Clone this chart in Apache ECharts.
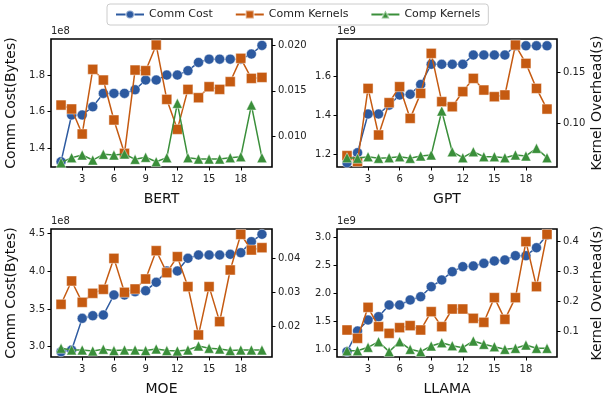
<!DOCTYPE html>
<html>
<head>
<meta charset="utf-8">
<script src="https://cdn.jsdelivr.net/npm/echarts@6/dist/echarts.min.js"></script>
<style>
html,body{margin:0;padding:0;background:#fff;}
#main{width:605px;height:398px;}
</style>
</head>
<body>
<div id="main"></div>
<script>
// x positions (run index)
var runs = [1,2,3,4,5,6,7,8,9,10,11,12,13,14,15,16,17,18,19,20];
var xTicks = [3,6,9,12,15,18];

// BERT  (comm cost in 1e8 bytes, kernels in s)
var bertComm = [1.327,1.582,1.582,1.627,1.700,1.700,1.700,1.720,1.773,1.773,1.800,1.800,1.824,1.869,1.887,1.887,1.887,1.887,1.915,1.962];
var bertCommK = [0.01345,0.01302,0.01029,0.01735,0.01618,0.01182,0.00818,0.01727,0.01720,0.02000,0.01407,0.01080,0.01516,0.01425,0.01545,0.01516,0.01600,0.01855,0.01636,0.01647];
var bertCompK = [0.00716,0.00771,0.00800,0.00745,0.00807,0.00800,0.00811,0.00753,0.00775,0.00727,0.00771,0.01364,0.00771,0.00756,0.00756,0.00756,0.00771,0.00782,0.01345,0.00771];

// GPT (1e9)
var gptComm = [1.155,1.207,1.407,1.407,1.453,1.505,1.509,1.560,1.664,1.664,1.664,1.664,1.712,1.712,1.712,1.712,1.760,1.760,1.760,1.760];
var gptCommK = [0.0681,0.0622,0.1345,0.0885,0.1204,0.1362,0.1049,0.1296,0.1691,0.1214,0.1164,0.1313,0.1444,0.1329,0.1263,0.1280,0.1773,0.1592,0.1345,0.1141];
var gptCompK = [0.0661,0.0655,0.0671,0.0655,0.0661,0.0671,0.0655,0.0678,0.0688,0.1122,0.0720,0.0661,0.0720,0.0671,0.0671,0.0661,0.0688,0.0678,0.0753,0.0661];

// MOE (1e8)
var moeComm = [2.934,2.956,3.375,3.410,3.419,3.684,3.684,3.728,3.741,3.852,4.002,4.002,4.169,4.213,4.213,4.213,4.222,4.244,4.390,4.487];
var moeCommK = [0.02654,0.03337,0.02712,0.02976,0.03093,0.04000,0.03005,0.03102,0.03395,0.04224,0.03580,0.04049,0.03171,0.01756,0.03171,0.02146,0.03659,0.04702,0.04244,0.04312];
var moeCompK = [0.01366,0.01317,0.01317,0.01288,0.01337,0.01298,0.01317,0.01317,0.01298,0.01346,0.01298,0.01288,0.01317,0.01434,0.01366,0.01346,0.01298,0.01317,0.01317,0.01317];

// LLAMA (1e9)
var llamaComm = [0.958,1.328,1.525,1.585,1.794,1.794,1.884,1.943,2.122,2.242,2.391,2.481,2.493,2.540,2.582,2.600,2.678,2.678,2.821,3.048];
var llamaCommK = [0.1033,0.0756,0.1789,0.1144,0.0922,0.1111,0.1178,0.1033,0.1644,0.1144,0.1733,0.1733,0.1422,0.1289,0.2111,0.1389,0.2111,0.3978,0.2478,0.4222];
var llamaCompK = [0.0344,0.0344,0.0456,0.0644,0.0311,0.0644,0.0389,0.0311,0.0500,0.0611,0.0511,0.0444,0.0667,0.0556,0.0478,0.0389,0.0422,0.0533,0.0422,0.0422];

var panels = [
  {name:'BERT', exp:'1e8', comm:bertComm, ck:bertCommK, pk:bertCompK,
   left:51, top:39, w:221, lmin:1.298, lmax:1.997, lticks:[1.4,1.6,1.8], ldec:1,
   rmin:0.00669, rmax:0.02066, rticks:[0.010,0.015,0.020], rdec:3, lname:'Comm Cost(Bytes)', rname:''},
  {name:'GPT', exp:'1e9', comm:gptComm, ck:gptCommK, pk:gptCompK,
   left:337, top:39, w:220, lmin:1.133, lmax:1.795, lticks:[1.2,1.4,1.6], ldec:1,
   rmin:0.0569, rmax:0.1833, rticks:[0.10,0.15], rdec:2, lname:'', rname:'Kernel Overhead(s)'},
  {name:'MOE', exp:'1e8', comm:moeComm, ck:moeCommK, pk:moeCompK,
   left:51, top:229, w:221, lmin:2.864, lmax:4.557, lticks:[3.0,3.5,4.0,4.5], ldec:1,
   rmin:0.0111, rmax:0.0486, rticks:[0.02,0.03,0.04], rdec:2, lname:'Comm Cost(Bytes)', rname:''},
  {name:'LLAMA', exp:'1e9', comm:llamaComm, ck:llamaCommK, pk:llamaCompK,
   left:337, top:229, w:220, lmin:0.862, lmax:3.156, lticks:[1.0,1.5,2.0,2.5,3.0], ldec:1,
   rmin:0.0133, rmax:0.44, rticks:[0.1,0.2,0.3,0.4], rdec:1, lname:'', rname:'Kernel Overhead(s)'}
];

var BLUE = '#2d5aa0', ORANGE = '#c55a11', GREEN = '#3a8f3a';
var FONT = 'DejaVu Sans';
var tickLabel = {color:'#222', fontSize:10, fontFamily:FONT};

var grids = [], xAxes = [], yAxes = [], series = [], graphics = [];

function pts(arr){ return runs.map(function(x,i){ return [x, arr[i]]; }); }

panels.forEach(function(p, i){
  grids.push({left:p.left, top:p.top, width:p.w, height:128, show:true,
    borderColor:'#000', borderWidth:1.6, backgroundColor:'transparent'});
  xAxes.push({type:'value', gridIndex:i, min:0.05, max:20.95,
    name:p.name, nameLocation:'middle', nameGap:25,
    nameTextStyle:{fontSize:14, color:'#111', fontFamily:FONT},
    axisLine:{show:false}, splitLine:{show:false},
    axisTick:{show:true, length:3.5, lineStyle:{color:'#000'}, customValues:xTicks},
    axisLabel:Object.assign({margin:7, customValues:xTicks}, tickLabel)});
  yAxes.push({type:'value', gridIndex:i, position:'left', min:p.lmin, max:p.lmax,
    name:p.lname, nameLocation:'middle', nameGap:33, nameRotate:90,
    nameTextStyle:{fontSize:14, color:'#111', fontFamily:FONT},
    axisLine:{show:false}, splitLine:{show:false},
    axisTick:{show:true, length:3.5, lineStyle:{color:'#000'}, customValues:p.lticks},
    axisLabel:Object.assign({margin:6, customValues:p.lticks,
      formatter:(function(d){ return function(v){ return v.toFixed(d); }; })(p.ldec)}, tickLabel)});
  yAxes.push({type:'value', gridIndex:i, position:'right', min:p.rmin, max:p.rmax,
    name:p.rname, nameLocation:'middle', nameGap:33, nameRotate:90,
    nameTextStyle:{fontSize:14, color:'#111', fontFamily:FONT},
    axisLine:{show:false}, splitLine:{show:false},
    axisTick:{show:true, length:3.5, lineStyle:{color:'#000'}, customValues:p.rticks},
    axisLabel:Object.assign({margin:6, customValues:p.rticks,
      formatter:(function(d){ return function(v){ return v.toFixed(d); }; })(p.rdec)}, tickLabel)});

  series.push({name:'Comm Cost', type:'line', xAxisIndex:i, yAxisIndex:2*i, data:pts(p.comm),
    symbol:'circle', symbolSize:10, z:2, animation:false,
    lineStyle:{color:BLUE, width:1.5},
    itemStyle:{color:BLUE, borderColor:'rgba(255,255,255,0.45)', borderWidth:1}});
  series.push({name:'Comm Kernels', type:'line', xAxisIndex:i, yAxisIndex:2*i+1, data:pts(p.ck),
    symbol:'rect', symbolSize:10, z:3, animation:false,
    lineStyle:{color:ORANGE, width:1.5},
    itemStyle:{color:ORANGE, borderColor:'rgba(255,255,255,0.45)', borderWidth:1}});
  series.push({name:'Comp Kernels', type:'line', xAxisIndex:i, yAxisIndex:2*i+1, data:pts(p.pk),
    symbol:'triangle', symbolSize:10, z:4, animation:false,
    lineStyle:{color:GREEN, width:1.5},
    itemStyle:{color:GREEN, borderColor:'rgba(255,255,255,0.45)', borderWidth:1}});

  graphics.push({type:'text', left:p.left, top:p.top - 13,
    style:{text:p.exp, fontSize:10, fill:'#222', fontFamily:FONT}});
});

var chart = echarts.init(document.getElementById('main'), null, {renderer:'canvas'});
chart.setOption({
  animation:false,
  backgroundColor:'#fff',
  legend:{left:107, top:4, itemWidth:28, itemHeight:10, itemGap:22,
    padding:[5,8,5,8], borderColor:'#ccc', borderWidth:1, borderRadius:3,
    textStyle:{fontSize:11, color:'#222', fontFamily:FONT},
    data:['Comm Cost','Comm Kernels','Comp Kernels']},
  grid:grids, xAxis:xAxes, yAxis:yAxes, series:series, graphic:graphics
});
</script>
</body>
</html>
